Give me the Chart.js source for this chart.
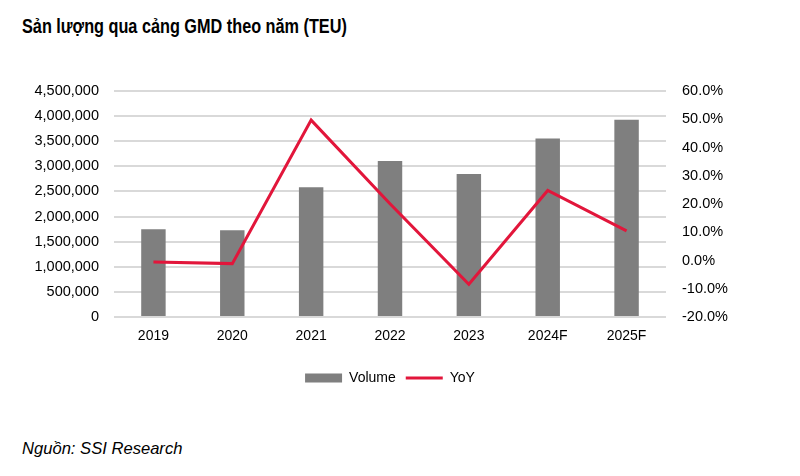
<!DOCTYPE html>
<html lang="vi">

<head>
    <meta charset="UTF-8">
    <title>Sản lượng qua cảng GMD</title>
    <script src="https://cdn.jsdelivr.net/npm/chart.js"></script>
    <style>
        html, body { margin: 0; padding: 0; background: #fff; }
        body { width: 800px; height: 476px; position: relative; overflow: hidden; }
        #title {
            position: absolute; left: 22px; top: 15px;
            font-family: 'Liberation Sans', Arial, sans-serif;
            font-weight: bold; font-size: 20px; color: #000; white-space: nowrap;
            transform-origin: 0 0;
        }
        #source {
            position: absolute; left: 22px; top: 439px;
            font-family: 'Liberation Sans', Arial, sans-serif;
            font-style: italic; font-size: 17px; color: #000; white-space: nowrap;
            transform-origin: 0 0;
        }
        #wrap { position: absolute; left: 0; top: 0; width: 800px; height: 401px; }
    </style>
</head>

<body>
    <div id="title">Sản lượng qua cảng GMD theo năm (TEU)</div>
    <div id="wrap"><canvas id="gmdChart"></canvas></div>
    <div id="source">Nguồn: SSI Research</div>

    <script>
        const years = ['2019', '2020', '2021', '2022', '2023', '2024F', '2025F'];
        const volume = [1746000, 1726000, 2586000, 3106000, 2846000, 3553000, 3926000];
        const yoy = [-0.5, -1.1, 49.7, 20.1, -8.4, 24.8, 10.5]; // %

        // the original uses a condensed face; squeeze the plain one to the same width
        function fitWidth(id, w) {
            const el = document.getElementById(id);
            el.style.transform = 'scaleX(' + (w / el.offsetWidth) + ')';
        }
        fitWidth('title', 325);
        fitWidth('source', 160);

        const tickFont = { family: "'Liberation Sans', Arial, sans-serif", size: 14.5 };

        const ctx = document.getElementById('gmdChart').getContext('2d');
        new Chart(ctx, {
            type: 'bar',
            data: {
                labels: years,
                datasets: [{
                    type: 'bar',
                    label: 'Volume',
                    data: volume,
                    backgroundColor: '#7f7f7f',
                    borderWidth: 0,
                    yAxisID: 'y',
                    order: 2,
                    pointStyle: 'rect',
                    categoryPercentage: 1,
                    barPercentage: 0.31
                }, {
                    type: 'line',
                    label: 'YoY',
                    data: yoy,
                    borderColor: '#e2163b',
                    backgroundColor: '#e2163b',
                    borderWidth: 3,
                    pointRadius: 0,
                    tension: 0,
                    yAxisID: 'y1',
                    order: 1,
                    pointStyle: 'line'
                }]
            },
            options: {
                responsive: true,
                maintainAspectRatio: false,
                animation: false,
                layout: { padding: { left: 20, right: 20, top: 91, bottom: 6 } },
                plugins: {
                    tooltip: { enabled: false },
                    legend: {
                        position: 'bottom',
                        fullSize: false,
                        labels: {
                            usePointStyle: true,
                            pointStyleWidth: 37,
                            boxHeight: 9,
                            padding: 10,
                            color: '#000',
                            font: { family: "'Liberation Sans', Arial, sans-serif", size: 14 },
                            sort: (a, b) => a.datasetIndex - b.datasetIndex
                        }
                    }
                },
                scales: {
                    x: {
                        grid: { display: false, drawTicks: false },
                        border: { display: false },
                        ticks: { color: '#000', font: { family: tickFont.family, size: 14 }, padding: 11 },
                        afterFit: (axis) => { axis.height = 44; }
                    },
                    y: {
                        position: 'left',
                        min: 0,
                        max: 4500000,
                        grid: { color: '#d9d9d9', lineWidth: 2, drawTicks: false },
                        border: { display: false },
                        ticks: {
                            stepSize: 500000,
                            color: '#000',
                            font: tickFont,
                            padding: 15,
                            callback: (v) => v.toLocaleString('en-US')
                        },
                        afterFit: (axis) => { axis.width = 94; }
                    },
                    y1: {
                        position: 'right',
                        min: -20,
                        max: 60,
                        grid: { display: false, drawTicks: false },
                        border: { display: false },
                        ticks: {
                            stepSize: 10,
                            color: '#000',
                            font: tickFont,
                            padding: 16,
                            callback: (v) => v.toFixed(1) + '%'
                        },
                        afterFit: (axis) => { axis.width = 114; }
                    }
                }
            }
        });
    </script>
</body>

</html>
